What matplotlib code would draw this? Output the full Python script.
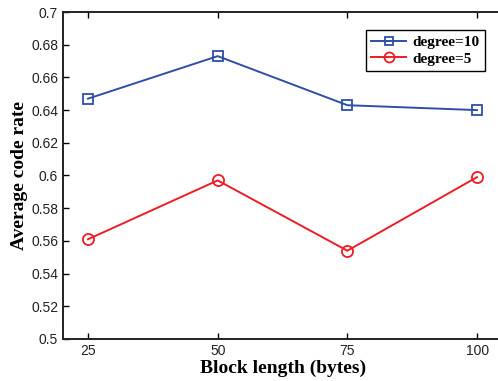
import matplotlib
matplotlib.use('Agg')
import matplotlib.pyplot as plt

# data
block_len = [25, 50, 75, 100]
deg10 = [0.647, 0.673, 0.643, 0.640]
deg5 = [0.561, 0.597, 0.554, 0.599]
yticks = [0.5, 0.52, 0.54, 0.56, 0.58, 0.6, 0.62, 0.64, 0.66, 0.68, 0.7]

fig = plt.figure(figsize=(4.98, 3.81), dpi=100)
# right edge of the box falls just outside the picture, as in the reference
ax = fig.add_axes([63 / 498, 42 / 381, 440 / 498, 327 / 381])

ax.plot(block_len, deg10, color='#2f4fa6', marker='s', markersize=6.5,
        markerfacecolor='none', markeredgewidth=1.3, linewidth=1.4, label='degree=10')
ax.plot(block_len, deg5, color='#ee1c24', marker='o', markersize=8,
        markerfacecolor='none', markeredgewidth=1.3, linewidth=1.4, label='degree=5')

ax.set_xlim(20.18, 105.0)
ax.set_ylim(0.5, 0.7)
ax.set_xticks(block_len)
ax.set_xticklabels([str(v) for v in block_len])
ax.set_yticks(yticks)
ax.set_yticklabels(['%g' % v for v in yticks])
ax.tick_params(direction='in', top=True, right=False, labelsize=10, width=1, length=4)
for lab in ax.get_xticklabels() + ax.get_yticklabels():
    lab.set_family('Liberation Sans')
    lab.set_color('#222222')
for s in ax.spines.values():
    s.set_linewidth(1.4)
    s.set_color('#222222')

ax.set_xlabel('Block length (bytes)', family='Liberation Serif', weight='bold', fontsize=14, labelpad=1)
ax.set_ylabel('Average code rate', family='Liberation Serif', weight='bold', fontsize=14, labelpad=2)

leg = ax.legend(loc='upper right', bbox_to_anchor=(0.959, 0.945), borderaxespad=0,
                prop={'family': 'Liberation Serif', 'weight': 'bold', 'size': 11},
                fancybox=False, edgecolor='black', framealpha=1, handlelength=2.3,
                handletextpad=0.4, borderpad=0.35, labelspacing=0.2, markerscale=0.9)
leg.get_frame().set_linewidth(1.0)

fig.savefig('out.png', dpi=100)
